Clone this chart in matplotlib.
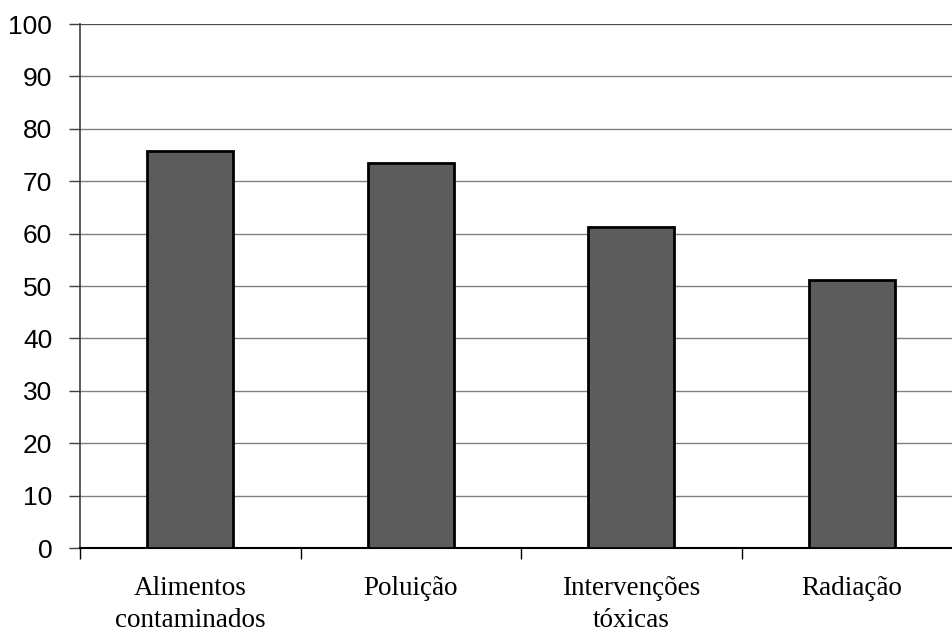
import matplotlib
matplotlib.use("Agg")
import matplotlib.pyplot as plt
import numpy as np

categories = ["Alimentos\ncontaminados", "Poluição", "Intervenções\ntóxicas", "Radiação"]
values = [75.7, 73.4, 61.3, 51.1]
yticks = [0, 10, 20, 30, 40, 50, 60, 70, 80, 90, 100]

fig = plt.figure(figsize=(9.52, 6.35), dpi=100)
ax = fig.add_axes([80/952, 1-548/635, (962-80)/952, (548-24)/635])

x = np.arange(len(categories))
ax.bar(x, values, width=0.39, color="#5c5c5c", edgecolor="black", linewidth=2, zorder=3)

ax.set_xlim(-0.5, len(categories)-0.5)
ax.set_ylim(0, 100)
ax.set_yticks(yticks)
ax.set_yticklabels([str(v) for v in yticks], family="Liberation Sans", fontsize=19)
ax.yaxis.grid(True, color="#808080", linewidth=1.0, zorder=0)
ax.set_axisbelow(True)

ax.set_xticks(x)
ax.set_xticklabels(categories, family="Liberation Serif", fontsize=19.5, linespacing=1.38)
ax.tick_params(axis="x", length=0, pad=20)
ax.set_xticks(np.arange(len(categories)+1)-0.5, minor=True)
ax.tick_params(axis="x", which="minor", length=8, width=1, color="black")
ax.tick_params(axis="y", length=8, width=1, pad=12, color="#404040")

for s in ["top", "right"]:
    ax.spines[s].set_visible(False)
ax.spines["left"].set_color("#404040")
ax.spines["left"].set_linewidth(1.2)
ax.spines["bottom"].set_color("black")
ax.spines["bottom"].set_linewidth(1.5)
ax.axhline(100, color="#404040", linewidth=1.2, zorder=1)

fig.savefig("out.png", dpi=100)
